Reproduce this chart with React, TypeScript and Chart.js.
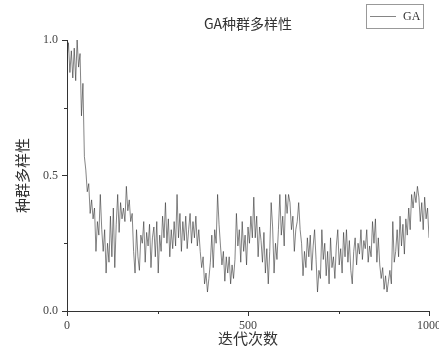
import React, { useEffect, useRef } from "react";
import { Chart, registerables } from "chart.js";

Chart.register(...registerables);

const TITLE = "GA种群多样性";
const X_TITLE = "迭代次数";
const Y_TITLE = "种群多样性";
const SERIES_NAME = "GA";
const X_TICKS = [0, 500, 1000];
const X_MINOR = [250, 750];
const Y_TICKS = [0, 0.5, 1.0];
const Y_MINOR = [0.25, 0.75];
const ITER_STEP = 4;

// population diversity, one value every ITER_STEP iterations (0..1000)
const DIVERSITY = [
  0.93, 0.99, 0.88, 0.96, 0.86, 0.97, 0.85, 1.0, 0.9, 0.95, 0.72, 0.84, 0.57,
  0.52, 0.44, 0.47, 0.36, 0.41, 0.34, 0.38, 0.22, 0.33, 0.28, 0.43, 0.3,
  0.22, 0.3, 0.14, 0.25, 0.18, 0.35, 0.2, 0.38, 0.16, 0.32, 0.43, 0.29, 0.4,
  0.34, 0.38, 0.33, 0.46, 0.37, 0.41, 0.33, 0.36, 0.22, 0.14, 0.3, 0.2, 0.15, 0.28,
  0.25, 0.33, 0.18, 0.29, 0.24, 0.32, 0.16, 0.27, 0.31, 0.2, 0.33,
  0.14, 0.28, 0.22, 0.35, 0.27, 0.4, 0.25, 0.34, 0.2, 0.3, 0.23, 0.33,
  0.24, 0.43, 0.27, 0.36, 0.22, 0.33, 0.26, 0.35, 0.23, 0.3,
  0.36, 0.25, 0.33, 0.27, 0.35, 0.24, 0.3,
  0.22, 0.16, 0.2, 0.1, 0.14, 0.07, 0.12,
  0.18, 0.28, 0.16, 0.3, 0.25,
  0.43, 0.32, 0.24, 0.17, 0.22, 0.11, 0.2,
  0.14, 0.2, 0.1, 0.17, 0.12, 0.19,
  0.36, 0.24, 0.3, 0.18, 0.33, 0.22, 0.28, 0.17, 0.31, 0.25, 0.35, 0.27, 0.42,
  0.27, 0.35, 0.2, 0.31, 0.26, 0.18, 0.29, 0.14, 0.23, 0.1, 0.22, 0.4,
  0.31, 0.14, 0.25, 0.19, 0.3, 0.43, 0.28, 0.35,
  0.24, 0.43, 0.36, 0.43, 0.4, 0.3, 0.35, 0.22, 0.3,
  0.33, 0.4, 0.3, 0.25, 0.13, 0.22, 0.16, 0.27,
  0.2, 0.28, 0.15, 0.24, 0.3, 0.19,
  0.07, 0.15, 0.12,
  0.3, 0.19, 0.25, 0.13, 0.22, 0.1, 0.27, 0.16, 0.2, 0.12, 0.24,
  0.3, 0.17, 0.23, 0.14, 0.29, 0.2, 0.3, 0.18, 0.26, 0.15, 0.1,
  0.22, 0.27, 0.17, 0.25, 0.21, 0.3, 0.19, 0.26, 0.23, 0.3, 0.18, 0.24, 0.2, 0.33,
  0.25, 0.34, 0.18, 0.27, 0.17,
  0.12, 0.16, 0.08, 0.13, 0.07, 0.11,
  0.15, 0.1, 0.33, 0.18, 0.22,
  0.3, 0.2, 0.35, 0.24, 0.32, 0.21, 0.34,
  0.28, 0.38, 0.3, 0.43,
  0.38, 0.44, 0.4, 0.46, 0.42,
  0.33, 0.4, 0.3, 0.42, 0.34, 0.38, 0.27,
];

const LINE_COLOR = "rgba(50,50,50,0.75)";
const AXIS_COLOR = "#333";
const CJK = '"Noto Sans CJK SC", sans-serif';
const NUM_FONT = "Liberation Serif";

const decorPlugin = {
  id: "decor",
  afterDraw(chart: any) {
    const { ctx, chartArea, scales } = chart;
    const cx = (chartArea.left + chartArea.right) / 2;
    const cy = (chartArea.top + chartArea.bottom) / 2;
    ctx.save();
    // minor ticks
    ctx.strokeStyle = AXIS_COLOR;
    ctx.lineWidth = 1;
    X_MINOR.forEach((v) => {
      const x = Math.round(scales.x.getPixelForValue(v)) + 0.5;
      ctx.beginPath();
      ctx.moveTo(x, chartArea.bottom);
      ctx.lineTo(x, chartArea.bottom + 3);
      ctx.stroke();
    });
    Y_MINOR.forEach((v) => {
      const y = Math.round(scales.y.getPixelForValue(v)) + 0.5;
      ctx.beginPath();
      ctx.moveTo(chartArea.left, y);
      ctx.lineTo(chartArea.left - 3, y);
      ctx.stroke();
    });
    // title
    ctx.fillStyle = "#333";
    ctx.textAlign = "center";
    ctx.textBaseline = "middle";
    ctx.font = `14px ${CJK}`;
    ctx.fillText(TITLE, cx, 24);
    // axis titles
    ctx.font = `15px ${CJK}`;
    ctx.fillText(X_TITLE, cx, 338);
    ctx.save();
    ctx.translate(22, cy);
    ctx.rotate(-Math.PI / 2);
    ctx.fillText(Y_TITLE, 0, 0);
    ctx.restore();
    // legend
    ctx.strokeStyle = "#999";
    ctx.strokeRect(366.5, 4.5, 57, 24);
    ctx.strokeStyle = LINE_COLOR;
    ctx.lineWidth = 0.8;
    ctx.beginPath();
    ctx.moveTo(370, 16.5);
    ctx.lineTo(396, 16.5);
    ctx.stroke();
    ctx.fillStyle = "#333";
    ctx.textAlign = "left";
    ctx.font = `12px "${NUM_FONT}", serif`;
    ctx.fillText(SERIES_NAME, 403, 17);
    ctx.restore();
  },
};

export default function App() {
  const ref = useRef<HTMLCanvasElement | null>(null);
  useEffect(() => {
    document.body.style.margin = "0";
    const canvas = ref.current!;
    const points = DIVERSITY.map((v, i) => ({ x: i * ITER_STEP, y: v }));
    const chart = new Chart(canvas, {
      type: "line",
      data: {
        datasets: [
          {
            label: SERIES_NAME,
            data: points,
            borderColor: LINE_COLOR,
            borderWidth: 0.8,
            pointRadius: 0,
            tension: 0,
            fill: false,
          },
        ],
      },
      options: {
        animation: false,
        responsive: false,
        devicePixelRatio: 1,
        layout: { padding: { left: 0, right: 10, top: 40, bottom: 0 } },
        plugins: {
          legend: { display: false },
          title: { display: false },
          tooltip: { enabled: false },
        },
        scales: {
          x: {
            type: "linear",
            min: 0,
            max: 1000,
            afterBuildTicks: (s: any) => {
              s.ticks = X_TICKS.map((v) => ({ value: v }));
            },
            afterFit: (s: any) => {
              s.height = 40;
              s.paddingLeft = 0;
              s.paddingRight = 0;
            },
            grid: {
              drawOnChartArea: false,
              drawTicks: true,
              tickLength: 5,
              color: AXIS_COLOR,
            },
            border: { display: true, color: AXIS_COLOR, width: 1 },
            ticks: {
              maxRotation: 0,
              autoSkip: false,
              padding: 3,
              color: "#444",
              font: { family: NUM_FONT, size: 12 },
              callback: (v: any) => String(v),
            },
          },
          y: {
            type: "linear",
            min: 0,
            max: 1,
            afterBuildTicks: (s: any) => {
              s.ticks = Y_TICKS.map((v) => ({ value: v }));
            },
            afterFit: (s: any) => {
              s.width = 67;
              s.paddingTop = 0;
              s.paddingBottom = 0;
            },
            grid: {
              drawOnChartArea: false,
              drawTicks: true,
              tickLength: 5,
              color: AXIS_COLOR,
            },
            border: { display: true, color: AXIS_COLOR, width: 1 },
            ticks: {
              autoSkip: false,
              padding: 4,
              color: "#444",
              font: { family: NUM_FONT, size: 12 },
              callback: (v: any) => Number(v).toFixed(1),
            },
          },
        },
      },
      plugins: [decorPlugin],
    });
    return () => chart.destroy();
  }, []);
  return (
    <div style={{ width: 439, height: 351, overflow: "hidden" }}>
      <canvas ref={ref} width={439} height={351} style={{ display: "block" }} />
    </div>
  );
}
